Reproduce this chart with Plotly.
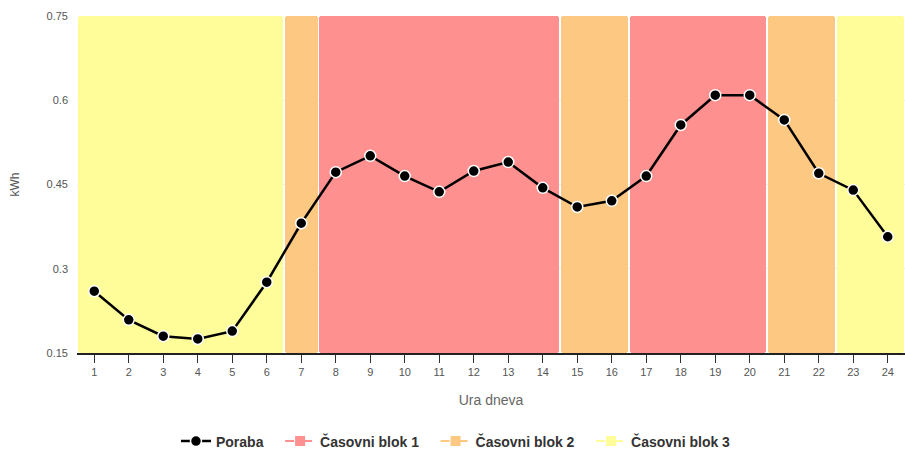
import plotly.graph_objects as go

hours = list(range(1, 25))
poraba = [0.260, 0.209, 0.180, 0.175, 0.189, 0.276, 0.381, 0.472, 0.501, 0.465, 0.437, 0.474,
          0.490, 0.444, 0.410, 0.421, 0.465, 0.556, 0.609, 0.609, 0.565, 0.470, 0.440, 0.357]
blok = [3, 3, 3, 3, 3, 3, 2, 1, 1, 1, 1, 1, 1, 1, 2, 2, 1, 1, 1, 1, 2, 2, 3, 3]
block_names = {1: "Časovni blok 1", 2: "Časovni blok 2", 3: "Časovni blok 3"}
block_colors = {1: "#FF9090", 2: "#FDC982", 3: "#FFFD9A"}
y_min, y_max = 0.15, 0.75

fig = go.Figure()

# contiguous block segments
segs = []
start = 0
for i in range(1, len(hours) + 1):
    if i == len(hours) or blok[i] != blok[start]:
        segs.append((hours[start], hours[i - 1], blok[start]))
        start = i
for a, b, k in segs:
    fig.add_trace(go.Bar(
        x=[(a + b) / 2], y=[y_max - y_min], base=[y_min], width=[b - a + 1 - 0.03],
        marker=dict(color=block_colors[k], line=dict(width=0), cornerradius=3),
        showlegend=False, hoverinfo="skip"))

pad = "\u00a0" * 3
fig.add_trace(go.Scatter(
    x=hours, y=poraba, mode="lines+markers", name="Poraba" + pad,
    line=dict(color="black", width=2.5),
    marker=dict(color="black", size=11, line=dict(color="white", width=1.5))))

for k in (1, 2, 3):
    fig.add_trace(go.Scatter(
        x=[None], y=[None], mode="lines+markers", name=block_names[k] + (pad if k < 3 else ""),
        line=dict(color=block_colors[k], width=2, dash="dash"),
        marker=dict(color=block_colors[k], symbol="square", size=10)))

fig.update_layout(
    width=905, height=451,
    margin=dict(l=77, r=0, t=16, b=98, autoexpand=False),
    paper_bgcolor="white", plot_bgcolor="white",
    bargap=0, barmode="overlay",
    font=dict(family="Arial, Liberation Sans, sans-serif", color="#555555", size=11),
    xaxis=dict(range=[0.5, 24.5], tickmode="array", tickvals=hours,
               ticktext=[str(h) for h in hours], showgrid=False, automargin=False,
               showline=True, linecolor="#222222", linewidth=1.5,
               ticks="outside", ticklen=8, tickcolor="#333333", tickwidth=1,
               title=dict(text="Ura dneva", font=dict(size=14, color="#666666"), standoff=18),
               zeroline=False),
    yaxis=dict(range=[y_min, y_max], tickmode="array", tickvals=[0.15, 0.3, 0.45, 0.6, 0.75],
               ticktext=["0.15", "0.3", "0.45", "0.6", "0.75"], automargin=False,
               showgrid=True, gridcolor="#eeeeee", zeroline=False, showline=False,
               ticks="", ticklabelstandoff=8,
               title=dict(text="kWh", font=dict(size=12, color="#555555"), standoff=24)),
    legend=dict(orientation="h", x=0.4577, xanchor="center", y=-0.215, yanchor="top",
                font=dict(size=14, color="#333333", family="Arial, Liberation Sans, sans-serif"),
                itemwidth=30),
)
fig.update_layout(legend_font_weight="bold")

fig.write_html("out.html", post_script="document.body.style.margin='0';",
               config={"displayModeBar": False})
